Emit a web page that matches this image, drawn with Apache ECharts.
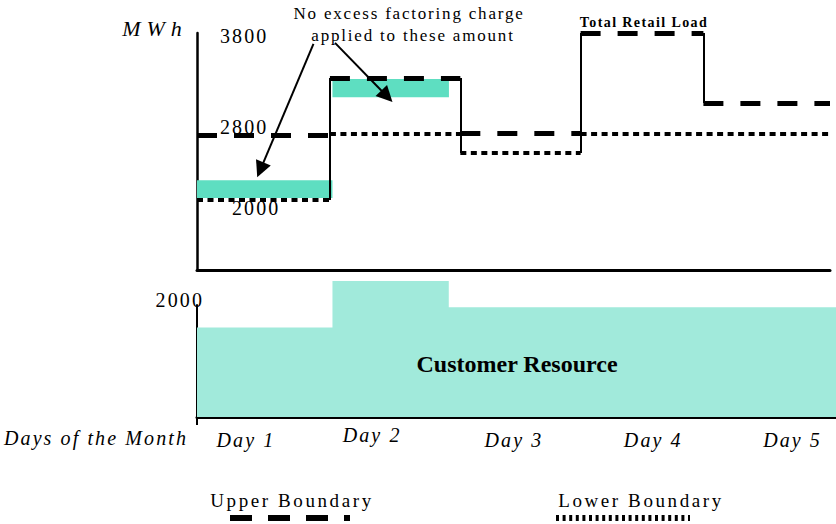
<!DOCTYPE html>
<html>
<head>
<meta charset="utf-8">
<script src="https://cdn.jsdelivr.net/npm/echarts@6/dist/echarts.min.js"></script>
<style>
  html, body { margin: 0; padding: 0; background: #fff; }
  #main { width: 836px; height: 524px; }
  /* the scanned figure uses wide letter spacing */
  #main text { letter-spacing: 2px; }
  #main text[style*="14px"] { letter-spacing: 1.4px; }
  #main text[style*="17px"] { letter-spacing: 1.8px; }
  #main text[style*="19px"] { letter-spacing: 2.6px; }
  #main text[style*="20px"] { letter-spacing: 2.1px; }
  #main text[style*="22px"] { letter-spacing: 6px; }
  #main text[style*="24px"] { letter-spacing: 0; }
</style>
</head>
<body>
<div id="main"></div>
<script>
// day-based x units (0..5), values in MWh
const days = ['Day 1', 'Day 2', 'Day 3', 'Day 4', 'Day 5'];
const dayEdges = [0, 1.05, 2.08, 3.03, 4.0, 5];
const retailLoad = [2110, 3345, 2585, 3800, 3090];
const boundary = [2760, 2780, 2780, 2780, 2780];
const mwhTicks = [3800, 2800, 2000];

// excess bands (no excess factoring charge)
const excessStart = [0, 1.07];
const excessEnd = [1.07, 1.99];
const excessLow = [2130, 3150];
const excessHigh = [2310, 3335];
const arrowFrom = [[0.92, 3690], [1.09, 3700]];
const arrowTo = [[0.5, 2415], [1.5, 3160]];

// lower panel
const resourceEdges = [0, 1.06, 1.97, 5];
const customerResource = [1600, 2430, 1960];
const resourceTicks = [2000];
const dayTicks = [0.383, 1.37, 2.48, 3.57, 4.66];

const SERIF = "'Liberation Serif', serif";

// build step segments: upper = higher of load / boundary, lower = the other one
function segments(pick) {
  const out = [];
  days.forEach((d, i) => {
    const y = pick(retailLoad[i], boundary[i]);
    const last = out[out.length - 1];
    if (last && last.coords[1][1] === y && last.coords[1][0] === dayEdges[i]) {
      last.coords[1] = [dayEdges[i + 1], y];
    } else {
      out.push({ coords: [[dayEdges[i], y], [dayEdges[i + 1], y]] });
    }
  });
  return out;
}
const upperSeg = segments(Math.max);
const lowerSeg = segments(Math.min);
const verticals = [];
for (let i = 1; i < days.length; i++) {
  verticals.push({ coords: [[dayEdges[i], retailLoad[i - 1]], [dayEdges[i], retailLoad[i]]] });
}
const arrows = arrowFrom.map((p, i) => ({ coords: [p, arrowTo[i]] }));
const excessData = excessStart.map((s, i) => [s, excessEnd[i], excessLow[i], excessHigh[i]]);
const resourceData = customerResource.map((v, i) => [resourceEdges[i], v]);
resourceData.push([resourceEdges[resourceEdges.length - 1], customerResource[customerResource.length - 1]]);

const myChart = echarts.init(document.getElementById('main'), null, { renderer: 'svg' });

const txt = (text, x, y, font) => ({
  type: 'text', x, y, z: 100,
  style: { text, font: font + ' ' + SERIF, fill: '#000', align: 'center', verticalAlign: 'middle' }
});
const dayFont = { fontFamily: SERIF, fontStyle: 'italic', fontSize: 20, color: '#000' };

const option = {
  animation: false,
  backgroundColor: '#fff',
  grid: [
    { left: 197, right: 6, top: 33, height: 237 },
    { left: 197, right: 0, top: 305, height: 112 }
  ],
  xAxis: [
    {
      type: 'value', gridIndex: 0, min: 0, max: 5,
      axisLine: { show: true, lineStyle: { color: '#000', width: 3 } },
      axisTick: { show: false }, axisLabel: { show: false }, splitLine: { show: false }
    },
    {
      type: 'value', gridIndex: 1, min: 0, max: 5,
      axisLine: { show: true, lineStyle: { color: '#000', width: 3 } },
      axisTick: { show: true, customValues: [0], length: 8, lineStyle: { color: '#000', width: 2 } },
      splitLine: { show: false },
      axisLabel: {
        customValues: dayTicks, margin: 8, color: '#000',
        fontFamily: SERIF, fontStyle: 'italic', fontSize: 20,
        formatter: v => {
          const i = dayTicks.indexOf(v);
          return i === 1 ? '{hi|' + days[i] + '}' : '{d|' + (days[i] || '') + '}';
        },
        rich: {
          d: Object.assign({ lineHeight: 30 }, dayFont),
          hi: Object.assign({ lineHeight: 20 }, dayFont)
        }
      },
      name: 'Days of the Month', nameLocation: 'start', nameGap: 9,
      nameTextStyle: {
        fontFamily: SERIF, fontStyle: 'italic', fontSize: 20, color: '#000',
        align: 'right', verticalAlign: 'top', padding: [11, 0, 0, 0]
      }
    }
  ],
  yAxis: [
    {
      type: 'value', gridIndex: 0, min: 1400, max: 3800,
      axisLine: { show: true, lineStyle: { color: '#000', width: 2.5 } },
      axisTick: { show: false }, splitLine: { show: false },
      axisLabel: {
        inside: true, margin: 23, customValues: mwhTicks, color: '#000',
        fontFamily: SERIF, fontSize: 20,
        formatter: v => v === 3800 ? '{t|' + v + '}' : v === 2800 ? '{m|' + v + '}' : '{s|' + v + '}',
        rich: {
          t: { fontFamily: SERIF, fontSize: 20, color: '#000', padding: [6, 0, 0, 0] },
          m: { fontFamily: SERIF, fontSize: 20, color: '#000', padding: [0, 0, 9, 0] },
          s: { fontFamily: SERIF, fontSize: 20, color: '#000', padding: [0, 0, 5, 12] }
        }
      }
    },
    {
      type: 'value', gridIndex: 1, min: 0, max: 2000,
      axisLine: { show: true, lineStyle: { color: '#000', width: 2 } },
      axisTick: { show: false }, splitLine: { show: false },
      axisLabel: {
        customValues: resourceTicks, margin: -7, color: '#000',
        fontFamily: SERIF, fontSize: 20, verticalAlign: 'bottom', lineHeight: 10,
        formatter: v => String(v)
      }
    }
  ],
  series: [
    {
      name: 'Customer Resource', type: 'line', xAxisIndex: 1, yAxisIndex: 1,
      step: 'end', symbol: 'none', clip: false,
      lineStyle: { width: 0 },
      areaStyle: { color: '#a1eadb', opacity: 1 },
      data: resourceData
    },
    {
      name: 'Excess', type: 'custom', xAxisIndex: 0, yAxisIndex: 0,
      encode: { x: [0, 1], y: [2, 3] },
      renderItem: (params, api) => {
        const p0 = api.coord([api.value(0), api.value(3)]);
        const p1 = api.coord([api.value(1), api.value(2)]);
        return {
          type: 'rect',
          shape: { x: p0[0], y: p0[1], width: p1[0] - p0[0], height: p1[1] - p0[1] },
          style: { fill: '#5edec1' }
        };
      },
      data: excessData
    },
    {
      name: 'Total Retail Load', type: 'lines', coordinateSystem: 'cartesian2d',
      xAxisIndex: 0, yAxisIndex: 0,
      lineStyle: { color: '#000', width: 2, opacity: 1, curveness: 0 },
      data: verticals
    },
    {
      name: 'Upper Boundary', type: 'lines', coordinateSystem: 'cartesian2d',
      xAxisIndex: 0, yAxisIndex: 0,
      lineStyle: { color: '#000', width: 5, opacity: 1, type: [20, 17], cap: 'butt' },
      data: upperSeg
    },
    {
      name: 'Lower Boundary', type: 'lines', coordinateSystem: 'cartesian2d',
      xAxisIndex: 0, yAxisIndex: 0,
      lineStyle: { color: '#000', width: 4, opacity: 1, type: [6, 4.5], cap: 'butt' },
      data: lowerSeg
    },
    {
      name: 'Arrows', type: 'lines', coordinateSystem: 'cartesian2d',
      xAxisIndex: 0, yAxisIndex: 0,
      symbol: ['none', 'triangle'], symbolSize: [13, 16],
      lineStyle: { color: '#000', width: 2, opacity: 1 },
      data: arrows
    }
  ],
  graphic: [
    txt('MWh', 155, 28, 'italic 22px'),
    txt('No excess factoring charge', 409, 13, '17px'),
    txt('applied to these amount', 413, 35, '17px'),
    txt('Total Retail Load', 644, 22, 'bold 14px'),
    txt('Customer Resource', 517, 364, 'bold 24px'),
    txt('Upper Boundary', 292, 500, '19px'),
    txt('Lower Boundary', 641, 500, '19px'),
    { type: 'line', z: 100, shape: { x1: 230, y1: 518, x2: 350, y2: 518 }, style: { stroke: '#000', lineWidth: 6, lineDash: [22, 16] } },
    { type: 'line', z: 100, shape: { x1: 556, y1: 518, x2: 690, y2: 518 }, style: { stroke: '#000', lineWidth: 6, lineDash: [3, 3.6] } }
  ]
};

myChart.setOption(option);
</script>
</body>
</html>
